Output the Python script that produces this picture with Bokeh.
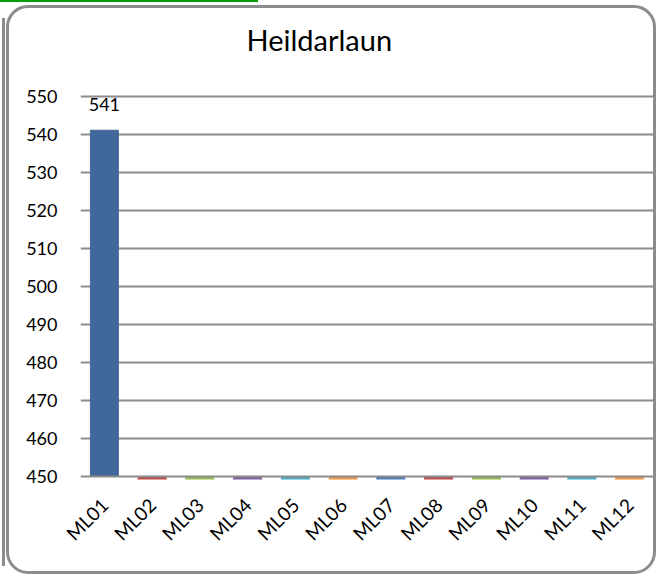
from bokeh.plotting import figure
from bokeh.layouts import column
from bokeh.models import (Range1d, FixedTicker, ColumnDataSource, LabelSet, Span, Title)
from bokeh.core.properties import value
from bokeh.embed import file_html
from bokeh.resources import INLINE
import math

# ---- data ----
title_text = "Heildarlaun"
categories = ["ML01", "ML02", "ML03", "ML04", "ML05", "ML06",
              "ML07", "ML08", "ML09", "ML10", "ML11", "ML12"]
values = [541, 0, 0, 0, 0, 0, 0, 0, 0, 0, 0, 0]
y_ticks = [450, 460, 470, 480, 490, 500, 510, 520, 530, 540, 550]

# ---- style ----
bar_colors = ["#41689A", "#BE4B48", "#98B954", "#7D60A0", "#4AACC5", "#F79646",
              "#4A7EBB", "#BE4B48", "#98B954", "#7D60A0", "#4AACC5", "#F79646"]
FONT = "Lato"
GRID = "#8C8C8C"

n = len(categories)
xs = [i + 0.5 for i in range(n)]
y_min, y_max = y_ticks[0], y_ticks[-1]

p = figure(width=650, height=569, output_backend="svg", toolbar_location=None,
           title_location=None,
           x_range=Range1d(0, n), y_range=Range1d(y_min - 0.8, y_max + 0.4),
           min_border_left=71, min_border_right=6, min_border_top=86,
           min_border_bottom=98)
p.styles = {"border": "3px solid #8C8C8C", "border-radius": "22px",
            "margin-left": "6px", "margin-top": "5px"}
p.outline_line_color = None
p.background_fill_color = "white"
p.border_fill_color = None

# spacer between title and plot area, then the title itself
p.add_layout(Title(text=" ", text_font=FONT, text_font_size="30px", standoff=0), "above")
p.add_layout(Title(text=title_text, align="left", offset=166, standoff=0,
                   text_font=FONT, text_font_size="29px", text_font_style="normal",
                   text_color="black"), "above")

src = ColumnDataSource(dict(x=xs, top=values, color=bar_colors, cat=categories))
p.vbar(x="x", top="top", bottom=y_min, width=0.585, color="color", source=src)

# baseline
p.add_layout(Span(location=y_min, dimension="width", line_color=GRID, line_width=2))

# data label(s) for visible bars
lab_x = [x for x, v in zip(xs, values) if v > y_min]
lab_y = [v for v in values if v > y_min]
lab_t = [str(v) for v in values if v > y_min]
lsrc = ColumnDataSource(dict(x=lab_x, y=lab_y, t=lab_t))
p.add_layout(LabelSet(x="x", y="y", text="t", source=lsrc, y_offset=19,
                      text_align="center", text_baseline="bottom",
                      text_font=value(FONT), text_font_size=value("18px"),
                      text_color="black"))

# grid
p.xgrid.grid_line_color = None
p.ygrid.grid_line_color = GRID
p.ygrid.grid_line_width = 2
p.ygrid.ticker = FixedTicker(ticks=y_ticks[1:])

# y axis
p.yaxis.ticker = FixedTicker(ticks=y_ticks)
p.yaxis.axis_line_color = None
p.yaxis.major_tick_line_color = None
p.yaxis.minor_tick_line_color = None
p.yaxis.major_label_standoff = 17
p.yaxis.major_label_text_font = FONT
p.yaxis.major_label_text_font_size = "18px"
p.yaxis.major_label_text_color = "black"

# x axis
p.xaxis.ticker = FixedTicker(ticks=xs)
p.xaxis.major_label_overrides = {x: c for x, c in zip(xs, categories)}
p.xaxis.axis_line_color = None
p.xaxis.major_tick_line_color = None
p.xaxis.minor_tick_line_color = None
p.xaxis.major_label_orientation = math.pi / 4
p.xaxis.major_label_standoff = 16
p.xaxis.major_label_text_font = FONT
p.xaxis.major_label_text_font_size = "19px"
p.xaxis.major_label_text_color = "black"

# page decorations seen in the reference: green rule at top, neighbouring frame edge
layout = column(p, styles={
    "background": ("linear-gradient(#00A000,#00A000) 0 0 / 258px 2px no-repeat, "
                   "linear-gradient(#8C8C8C,#8C8C8C) 2px 18px / 3px 548px no-repeat")})

open("out.html", "w").write(file_html(layout, INLINE))
